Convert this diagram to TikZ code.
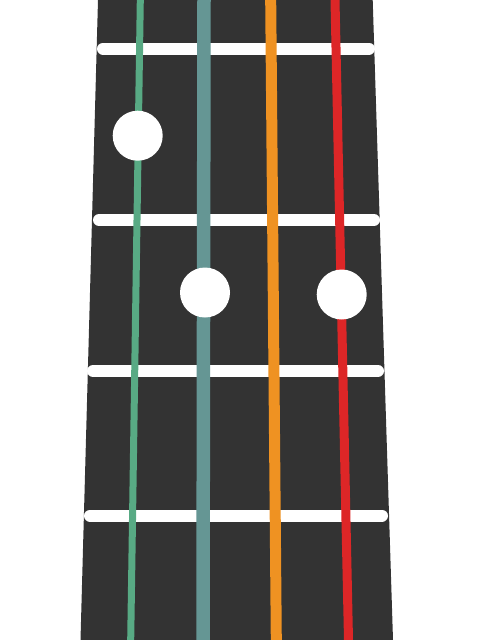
\documentclass[tikz,border=0pt]{standalone}
\usepackage{tikz}
\usetikzlibrary{positioning,calc}

\definecolor{boardgray}{RGB}{51,51,51}
\definecolor{strgreen}{RGB}{88,170,132}
\definecolor{strteal}{RGB}{101,150,148}
\definecolor{strorange}{RGB}{239,146,34}
\definecolor{strred}{RGB}{221,38,39}

\begin{document}
\begin{tikzpicture}[x=1pt, y=-1pt,
    fret/.style={white, line width=12pt, line cap=round},
    ukestring/.style={line width=#1, line cap=butt},
    fingerdot/.style={fill=white, draw=none}]
    % 画布大小与参考图一致
    \useasboundingbox (0,0) rectangle (480,640);

    % 指板
    \fill[boardgray] (98,0) -- (372.7,0) -- (393,640) -- (80.5,640) -- cycle;

    % 品丝
    \draw[fret] (103,48.5) -- (369,48.5);
    \draw[fret] (99,220) -- (374,220);
    \draw[fret] (93,371) -- (378,371);
    \draw[fret] (90,515.5) -- (382,515.5);

    % 琴弦（从左到右）
    \coordinate (g top) at (140.3,0);   \coordinate (g bot) at (130.7,640);
    \coordinate (c top) at (204,0);     \coordinate (c bot) at (203,640);
    \coordinate (e top) at (270.7,0);   \coordinate (e bot) at (276.3,640);
    \coordinate (a top) at (335,0);     \coordinate (a bot) at (348.5,640);
    \draw[ukestring=7pt, strgreen] (g top) -- (g bot);
    \draw[ukestring=13.5pt, strteal] (c top) -- (c bot);
    \draw[ukestring=11pt, strorange] (e top) -- (e bot);
    \draw[ukestring=9pt, strred] (a top) -- (a bot);

    % 按弦位置
    \fill[fingerdot] (137.7,135.7) circle (25);
    \fill[fingerdot] (205,292.5) circle (25);
    \fill[fingerdot] (341.7,294.5) circle (25);
\end{tikzpicture}
\end{document}
